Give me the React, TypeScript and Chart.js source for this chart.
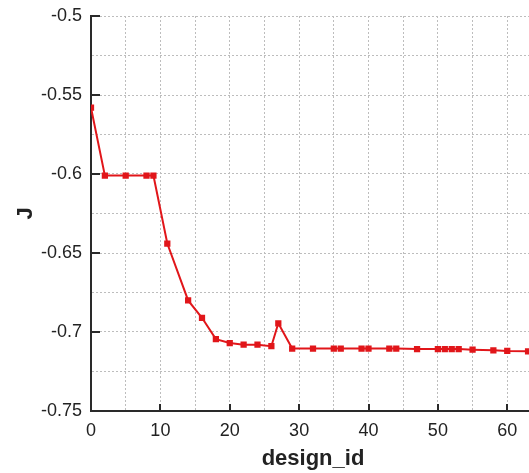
import React, { useEffect, useRef } from 'react';
import { Chart, registerables } from 'chart.js';

Chart.register(...registerables);

const designIds = [0, 2, 5, 8, 9, 11, 14, 16, 18, 20, 22, 24, 26, 27, 29, 32, 35, 36, 39, 40, 43, 44, 47, 50, 51, 52, 53, 55, 58, 60, 63];
const jValues = [
  -0.558, -0.601, -0.601, -0.601, -0.601,
  -0.644, -0.68, -0.691, -0.7045, -0.707, -0.708, -0.708, -0.709, -0.6945, -0.7105,
  -0.7105, -0.7105, -0.7105, -0.7105, -0.7105, -0.7105, -0.7105, -0.7108, -0.7108, -0.7108, -0.7108, -0.7108,
  -0.7112, -0.7116, -0.712, -0.7122,
];
const xMajorTicks = [0, 10, 20, 30, 40, 50, 60];
const yMajorTicks = [-0.75, -0.7, -0.65, -0.6, -0.55, -0.5];

const X_MIN = 0;
const X_MAX = 64;
const Y_MIN = -0.75;
const Y_MAX = -0.5;

const innerTicks = {
  id: 'innerTicks',
  afterDraw(chart: any) {
    const { ctx, chartArea, scales } = chart;
    ctx.save();
    ctx.strokeStyle = '#2a2a2a';
    ctx.lineWidth = 2;
    ctx.beginPath();
    xMajorTicks.forEach((v) => {
      const px = Math.round(scales.x.getPixelForValue(v));
      ctx.moveTo(px, chartArea.bottom);
      ctx.lineTo(px, chartArea.bottom - 7);
    });
    yMajorTicks.forEach((v) => {
      const py = Math.round(scales.y.getPixelForValue(v));
      ctx.moveTo(chartArea.left, py);
      ctx.lineTo(chartArea.left + 9, py);
    });
    ctx.stroke();
    ctx.restore();
  },
};

export default function App() {
  const ref = useRef<HTMLCanvasElement>(null);
  useEffect(() => {
    if (!ref.current) return;
    const points = designIds.map((x, i) => ({ x, y: jValues[i] }));
    const chart = new Chart(ref.current, {
      type: 'scatter',
      data: {
        datasets: [
          {
            data: points,
            showLine: true,
            borderColor: 'rgb(225,22,26)',
            backgroundColor: 'rgb(225,22,26)',
            borderWidth: 2,
            pointStyle: 'rect',
            pointRadius: 3,
            pointHoverRadius: 3,
          },
        ],
      },
      options: {
        animation: false,
        responsive: false,
        events: [],
        layout: { padding: { top: 16, right: 25, left: 0, bottom: 0 } },
        plugins: { legend: { display: false }, tooltip: { enabled: false } },
        scales: {
          x: {
            type: 'linear',
            min: X_MIN,
            max: X_MAX,
            afterFit: (s: any) => { s.height = 62; },
            ticks: {
              stepSize: 5,
              includeBounds: false,
              maxRotation: 0,
              autoSkip: false,
              color: '#222',
              padding: 9,
              font: { family: 'Liberation Sans, Arial, sans-serif', size: 18 },
              callback: (v: any) => (Math.round(Number(v)) % 10 === 0 ? String(v) : ''),
            },
            grid: { color: '#bdbdbd', lineWidth: 1, drawTicks: false },
            border: { display: true, color: '#2a2a2a', width: 2, dash: [2, 2] },
            title: {
              display: true,
              text: 'design_id',
              color: '#222',
              padding: { top: 0, bottom: 1 },
              font: { family: 'Liberation Sans, Arial, sans-serif', size: 22, weight: 'bold' },
            },
          },
          y: {
            type: 'linear',
            min: Y_MIN,
            max: Y_MAX,
            afterFit: (s: any) => { s.width = 91; s.paddingTop = 0; s.paddingBottom = 0; },
            ticks: {
              stepSize: 0.025,
              autoSkip: false,
              color: '#222',
              padding: 9,
              font: { family: 'Liberation Sans, Arial, sans-serif', size: 18 },
              callback: (v: any) => {
                const n = Math.round(Number(v) * 1000);
                return n % 50 === 0 ? String(n / 1000) : '';
              },
            },
            grid: { color: '#bdbdbd', lineWidth: 1, drawTicks: false },
            border: { display: true, color: '#2a2a2a', width: 2, dash: [2, 2] },
            title: {
              display: true,
              text: 'J',
              color: '#222',
              padding: { top: 13, bottom: 0 },
              font: { family: 'Liberation Sans, Arial, sans-serif', size: 22, weight: 'bold' },
            },
          },
        },
      },
      plugins: [innerTicks],
    } as any);
    return () => chart.destroy();
  }, []);
  return (
    <div style={{ position: 'fixed', left: 0, top: 0, width: 529, height: 473, overflow: 'hidden', background: '#fff' }}>
      <canvas ref={ref} width={560} height={473} style={{ display: 'block' }} />
    </div>
  );
}
